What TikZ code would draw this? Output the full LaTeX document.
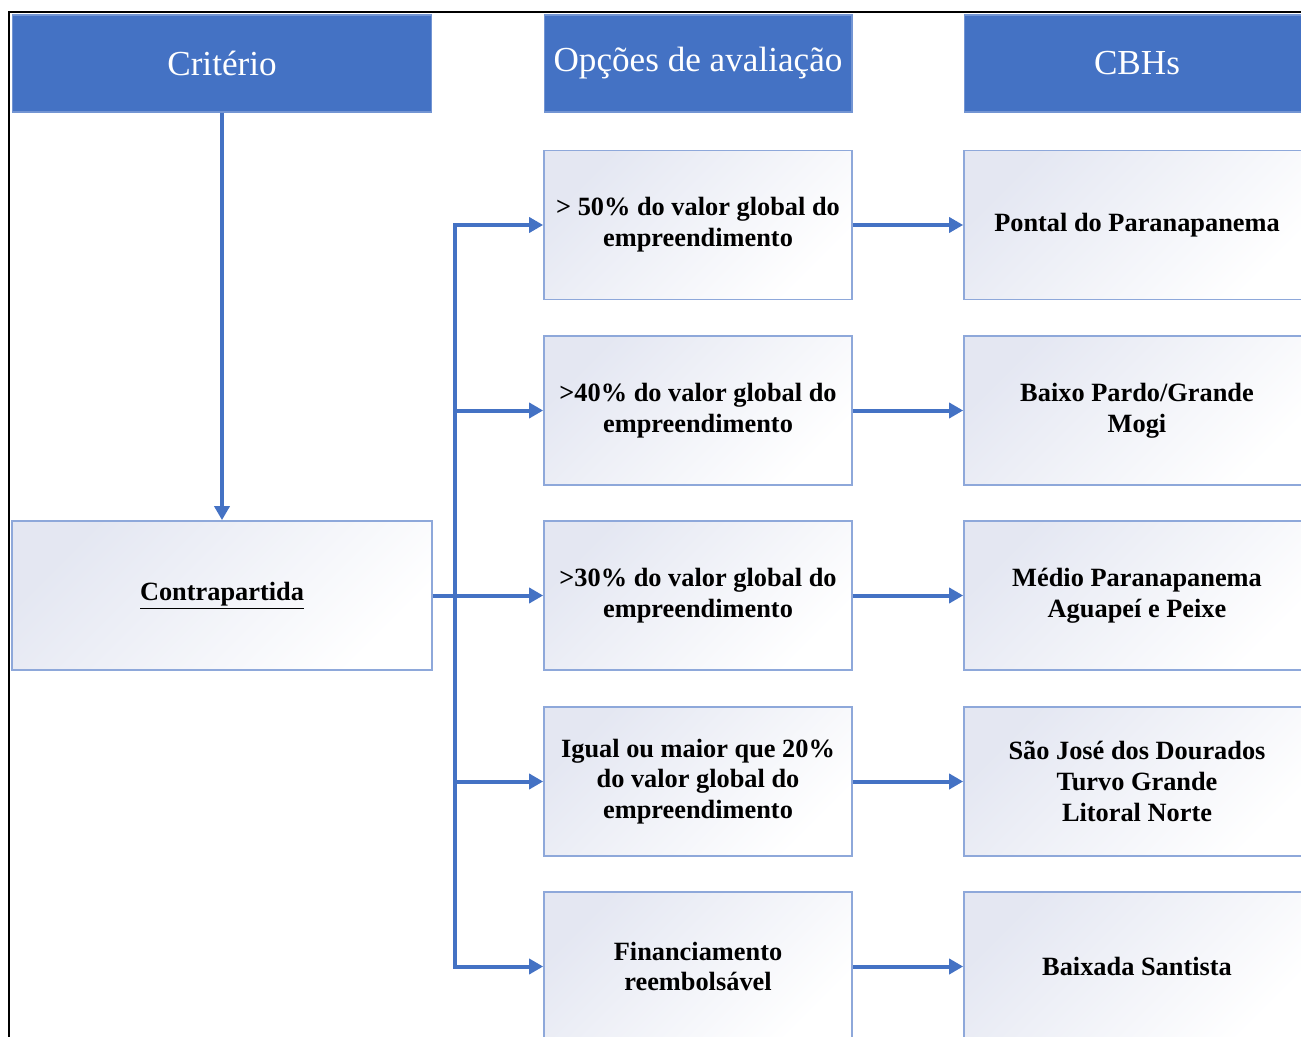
\documentclass[tikz,border=0pt]{standalone}
\usepackage{fontspec}
\setmainfont{Liberation Serif}
\usetikzlibrary{arrows.meta,positioning}
\definecolor{hdblue}{HTML}{4472C4}
\definecolor{bxline}{HTML}{8EA8DA}
\definecolor{bxtop}{HTML}{E4E7F2}

\begin{document}
\begin{tikzpicture}[x=0.02cm, y=-0.02cm,
  head/.style={fill=hdblue, draw=hdblue!75!white, line width=0.6pt, text=white,
    font=\fontsize{20}{23}\selectfont, minimum height=1.94cm, inner sep=0pt},
  cell/.style={draw=bxline, line width=1pt, top color=bxtop, bottom color=white,
    shading angle=45, align=center, font=\fontsize{15}{17.5}\selectfont\bfseries,
    minimum height=2.98cm, inner sep=0pt},
  flow/.style={hdblue, line width=0.08cm, -{Triangle[length=0.28cm,width=0.3cm]}}]

  % ---- Page ----
  \useasboundingbox (0,0) rectangle (1301,1037);
  \clip (0,0) rectangle (1301,1037);
  \draw[line width=1.2pt] (9,1037) -- (9,12) -- (1301,12);

  % ---- Headers ----
  \node[head, minimum width=8.4cm]  (crit) at (222,63.5)  {Critério};
  \node[head, minimum width=6.16cm] (opc)  at (698,63.5)  {Opções de avaliação};
  \node[head, minimum width=6.92cm] (cbh)  at (1137,63.5) {CBHs};

  % ---- Criterion ----
  \node[cell, minimum width=8.4cm] (contra) at (222,595.5) {\underline{Contrapartida}};

  % ---- Options ----
  \node[cell, minimum width=6.16cm] (op1) at (698,225)
    {> 50\% do valor global do\\ empreendimento};
  \node[cell, minimum width=6.16cm] (op2) at (698,410.5)
    {>40\% do valor global do\\ empreendimento};
  \node[cell, minimum width=6.16cm] (op3) at (698,595.5)
    {>30\% do valor global do\\ empreendimento};
  \node[cell, minimum width=6.16cm] (op4) at (698,781.5)
    {Igual ou maior que 20\%\\ do valor global do\\ empreendimento};
  \node[cell, minimum width=6.16cm] (op5) at (698,966.5)
    {Financiamento\\ reembolsável};

  % ---- CBHs ----
  \node[cell, minimum width=6.92cm] (cb1) at (1137,225)
    {Pontal do Paranapanema};
  \node[cell, minimum width=6.92cm] (cb2) at (1137,410.5)
    {Baixo Pardo/Grande\\ Mogi};
  \node[cell, minimum width=6.92cm] (cb3) at (1137,595.5)
    {Médio Paranapanema\\ Aguapeí e Peixe};
  \node[cell, minimum width=6.92cm] (cb4) at (1137,781.5)
    {São José dos Dourados\\ Turvo Grande\\ Litoral Norte};
  \node[cell, minimum width=6.92cm] (cb5) at (1137,966.5)
    {Baixada Santista};

  % ---- Connectors ----
  \coordinate (bus) at (455,595.5);
  \draw[flow] (crit) -- (contra);
  \draw[flow] (contra.east) -- (op3.west);
  \draw[flow] (bus) |- (op1.west);
  \draw[flow] (bus) |- (op5.west);
  \draw[flow] (bus |- op2.west) -- (op2.west);
  \draw[flow] (bus |- op4.west) -- (op4.west);

  \foreach \i in {1,...,5}
    \draw[flow] (op\i) -- (cb\i);

\end{tikzpicture}
\end{document}
